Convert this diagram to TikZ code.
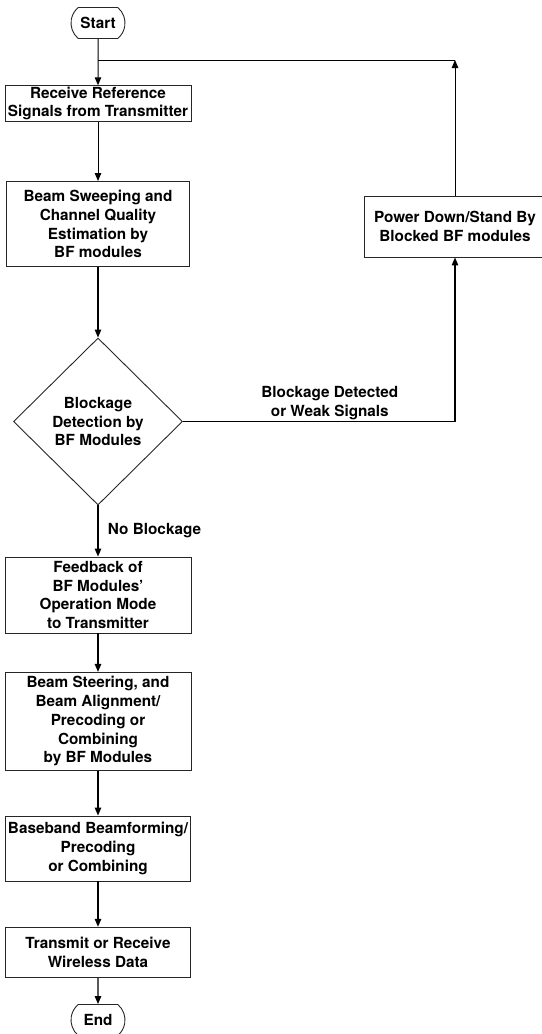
\documentclass[tikz,border=0pt]{standalone}
\usepackage{fontspec}
\setmainfont{TeX Gyre Heros}
\usetikzlibrary{shapes.geometric,shapes.misc,arrows.meta}
\newcommand{\flowfont}{\fontsize{15.3bp}{18.8bp}\selectfont\bfseries}
\begin{document}
\begin{tikzpicture}
	[x=1bp, y=-1bp,
	box/.style ={draw=black!85, line width=0.9bp, align=center, inner sep=1bp, font=\flowfont},
	term/.style ={draw=black!85, line width=0.9bp, rounded rectangle, rounded rectangle arc length=100,
		inner sep=0pt, minimum width=54bp, minimum height=31bp, font=\flowfont},
	decide/.style ={draw=black!85, line width=0.9bp, diamond, inner sep=0pt, align=center,
		minimum width=169bp, minimum height=167bp, font=\flowfont},
	flow/.style ={-{Triangle[length=8bp,width=6.5bp]}, line width=1.3bp}]
	\useasboundingbox (0,0) rectangle (542,1034);
	\node[term] (start) at (98,23) {Start};
	\node[box, minimum width=186bp, minimum height=35bp] (recv) at (98,103.5) {Receive Reference\\Signals from Transmitter};
	\node[box, minimum width=183bp, minimum height=85bp] (sweep) at (98,224) {Beam Sweeping and\\Channel Quality\\Estimation by\\BF modules};
	\node[decide] (detect) at (98,421.5) {Blockage\\Detection by\\BF Modules};
	\node[box, minimum width=186bp, minimum height=76bp] (feedback) at (98,595) {Feedback of\\BF Modules’\\Operation Mode\\to Transmitter};
	\node[box, minimum width=186bp, minimum height=98bp] (steer) at (98,721.3) {Beam Steering, and\\Beam Alignment/\\Precoding or\\Combining\\by BF Modules};
	\node[box, minimum width=185bp, minimum height=65bp] (baseband) at (98,848.5) {Baseband Beamforming/\\Precoding\\or Combining};
	\node[box, minimum width=185bp, minimum height=50.5bp] (transmit) at (98,952.5) {Transmit or Receive\\Wireless Data};
	\node[term] (finish) at (98,1020) {End};
	\node[box, minimum width=182bp, minimum height=61bp] (power) at (455,226.5) {Power Down/Stand By\\Blocked BF modules};
	\coordinate (corner) at (455,60);
	\coordinate (join) at (98,60);
	% loop back to the top
	\path[flow, line width=1bp] (start) edge (recv)
	(recv) edge (sweep)
	(power) edge (corner);
	\draw[line width=1bp] (corner) -- (join);
	\path[flow] (sweep) edge (detect)
	(detect) edge node[right=6bp, font=\flowfont] (nolbl) {No Blockage} (feedback)
	(feedback) edge (steer)
	(steer) edge (baseband)
	(baseband) edge (transmit)
	(transmit) edge (finish);
	\draw[flow] (detect.east) -| node[above, pos=0.27, inner sep=1bp, align=center, font=\flowfont] (blocklbl) {Blockage Detected\\or Weak Signals} (power.south);
\end{tikzpicture}
\end{document}
